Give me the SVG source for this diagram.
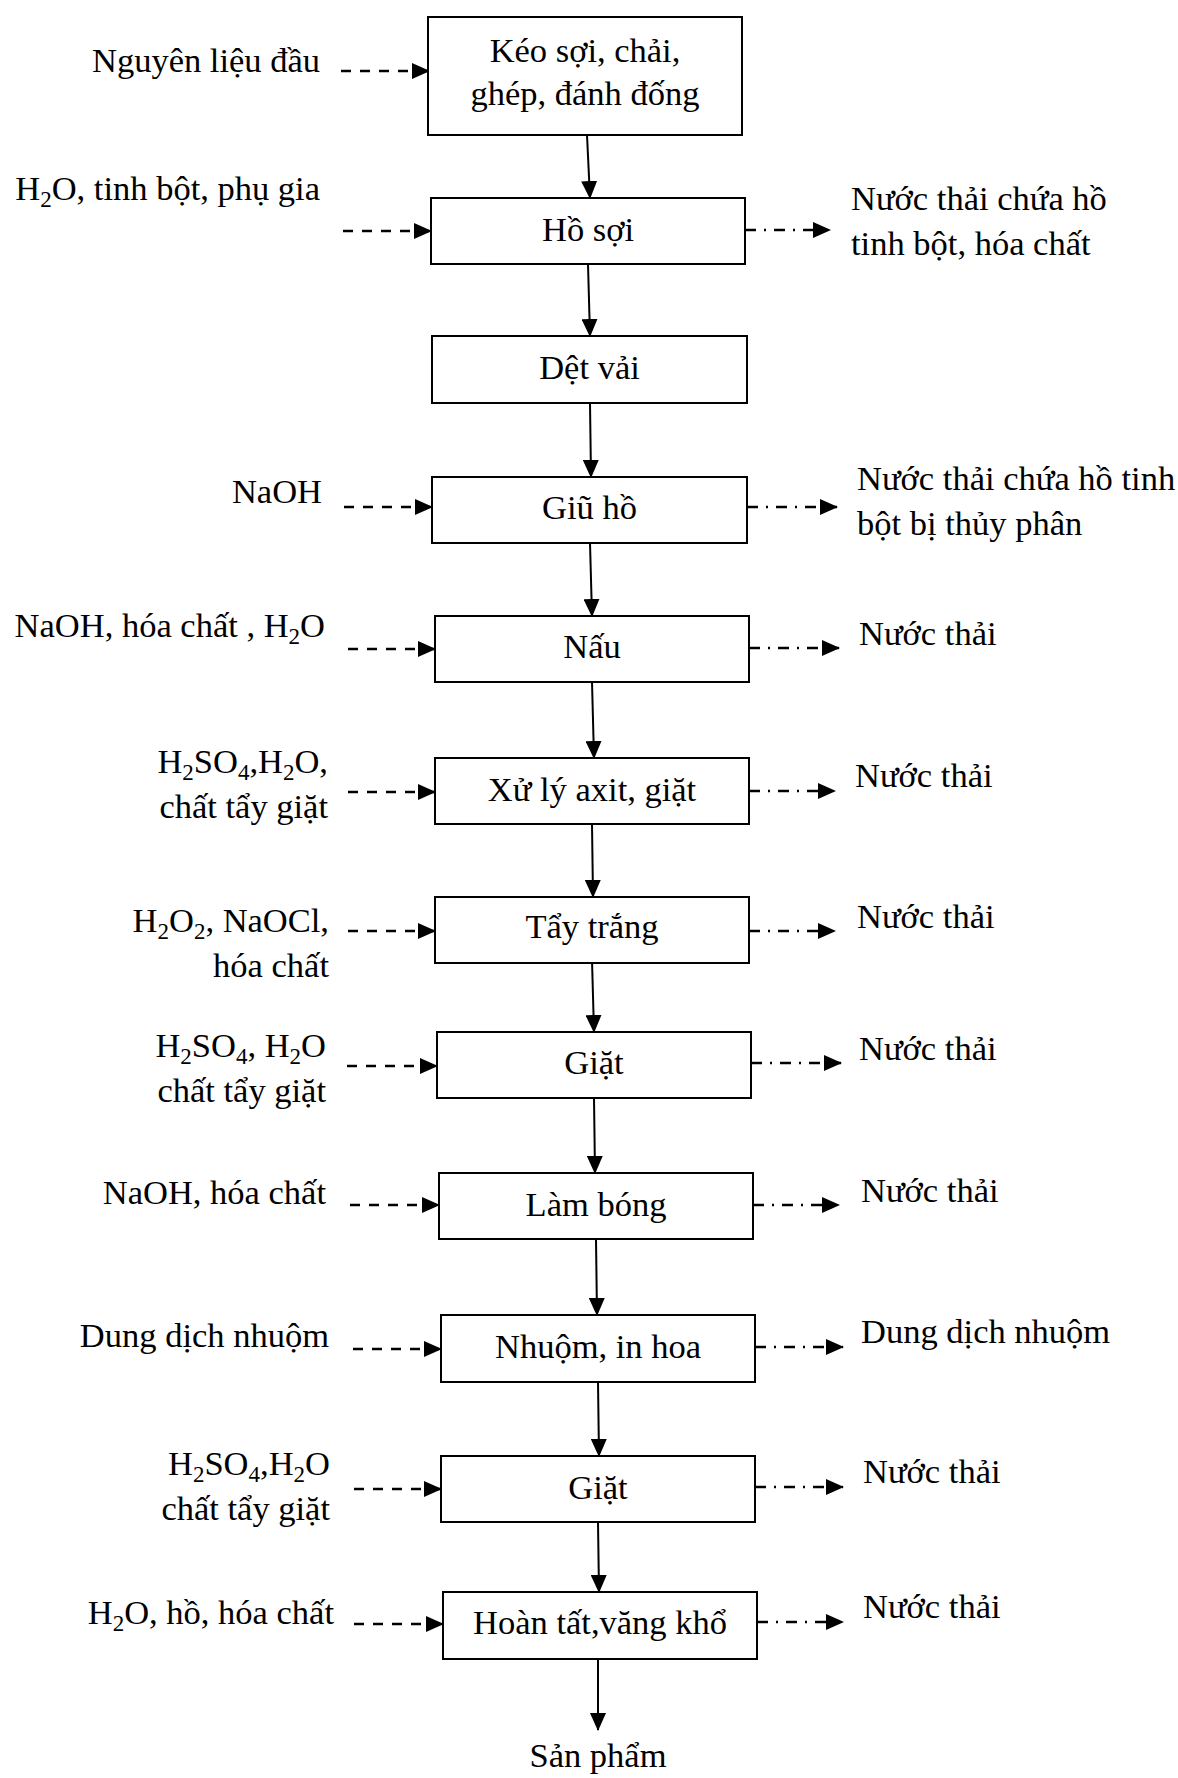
<svg xmlns="http://www.w3.org/2000/svg" width="1178" height="1778" viewBox="0 0 1178 1778">
<style>
text{font-family:"Liberation Serif","Times New Roman",serif;font-size:34.5px;fill:#000}
.l{text-anchor:end}
.r{text-anchor:start}
.m{text-anchor:middle}
.box{fill:#fff;stroke:#000;stroke-width:2}
.flow{stroke:#000;stroke-width:2;fill:none}
.in{stroke:#000;stroke-width:2.5;fill:none;stroke-dasharray:10 9}
.out{stroke:#000;stroke-width:2.5;fill:none;stroke-dasharray:11 8 2 8}
.sub{font-size:23px}
</style>
<defs>
<marker id="ah" markerUnits="userSpaceOnUse" markerWidth="18" markerHeight="16" refX="17" refY="8" orient="auto">
<path d="M0,0 L18,8 L0,16 z" fill="#000"/>
</marker>
</defs>

<g id="connectors">
<line class="flow" x1="587" y1="135" x2="590" y2="198" marker-end="url(#ah)"/>
<line class="flow" x1="588" y1="264" x2="590" y2="336" marker-end="url(#ah)"/>
<line class="flow" x1="590" y1="403" x2="591" y2="477" marker-end="url(#ah)"/>
<line class="flow" x1="590" y1="543" x2="592" y2="616" marker-end="url(#ah)"/>
<line class="flow" x1="592" y1="682" x2="594" y2="758" marker-end="url(#ah)"/>
<line class="flow" x1="592" y1="824" x2="593" y2="897" marker-end="url(#ah)"/>
<line class="flow" x1="592" y1="960" x2="594" y2="1032" marker-end="url(#ah)"/>
<line class="flow" x1="594" y1="1098" x2="595" y2="1173" marker-end="url(#ah)"/>
<line class="flow" x1="596" y1="1239" x2="597" y2="1315" marker-end="url(#ah)"/>
<line class="flow" x1="598" y1="1382" x2="599" y2="1456" marker-end="url(#ah)"/>
<line class="flow" x1="598" y1="1522" x2="599" y2="1592" marker-end="url(#ah)"/>
<line class="flow" x1="598" y1="1659" x2="598" y2="1730" marker-end="url(#ah)"/>

<line class="in" x1="341" y1="71" x2="429" y2="71" marker-end="url(#ah)"/>
<line class="in" x1="343" y1="231" x2="431" y2="231" marker-end="url(#ah)"/>
<line class="in" x1="344" y1="507" x2="432" y2="507" marker-end="url(#ah)"/>
<line class="in" x1="348" y1="649" x2="435" y2="649" marker-end="url(#ah)"/>
<line class="in" x1="348" y1="792" x2="435" y2="792" marker-end="url(#ah)"/>
<line class="in" x1="348" y1="931" x2="435" y2="931" marker-end="url(#ah)"/>
<line class="in" x1="347" y1="1066" x2="437" y2="1066" marker-end="url(#ah)"/>
<line class="in" x1="350" y1="1205" x2="439" y2="1205" marker-end="url(#ah)"/>
<line class="in" x1="353" y1="1349" x2="441" y2="1349" marker-end="url(#ah)"/>
<line class="in" x1="354" y1="1489" x2="441" y2="1489" marker-end="url(#ah)"/>
<line class="in" x1="354" y1="1624" x2="443" y2="1624" marker-end="url(#ah)"/>

<line class="out" x1="745" y1="230" x2="830" y2="230" marker-end="url(#ah)"/>
<line class="out" x1="747" y1="507" x2="837" y2="507" marker-end="url(#ah)"/>
<line class="out" x1="749" y1="648" x2="839" y2="648" marker-end="url(#ah)"/>
<line class="out" x1="749" y1="791" x2="835" y2="791" marker-end="url(#ah)"/>
<line class="out" x1="749" y1="931" x2="835" y2="931" marker-end="url(#ah)"/>
<line class="out" x1="751" y1="1063" x2="841" y2="1063" marker-end="url(#ah)"/>
<line class="out" x1="753" y1="1205" x2="839" y2="1205" marker-end="url(#ah)"/>
<line class="out" x1="755" y1="1347" x2="843" y2="1347" marker-end="url(#ah)"/>
<line class="out" x1="755" y1="1487" x2="843" y2="1487" marker-end="url(#ah)"/>
<line class="out" x1="757" y1="1622" x2="843" y2="1622" marker-end="url(#ah)"/>
</g>

<g id="n1"><rect class="box" x="428" y="17" width="314" height="118"/>
<text class="m" x="585" y="62">Kéo sợi, chải,</text><text class="m" x="585" y="105">ghép, đánh đống</text></g>
<g id="n2"><rect class="box" x="431" y="198" width="314" height="66"/><text class="m" x="588" y="241">Hồ sợi</text></g>
<g id="n3"><rect class="box" x="432" y="336" width="315" height="67"/><text class="m" x="589.5" y="379">Dệt vải</text></g>
<g id="n4"><rect class="box" x="432" y="477" width="315" height="66"/><text class="m" x="589.5" y="519">Giũ hồ</text></g>
<g id="n5"><rect class="box" x="435" y="616" width="314" height="66"/><text class="m" x="592" y="658">Nấu</text></g>
<g id="n6"><rect class="box" x="435" y="758" width="314" height="66"/><text class="m" x="592" y="801">Xử lý axit, giặt</text></g>
<g id="n7"><rect class="box" x="435" y="897" width="314" height="66"/><text class="m" x="592" y="938">Tẩy trắng</text></g>
<g id="n8"><rect class="box" x="437" y="1032" width="314" height="66"/><text class="m" x="594" y="1074">Giặt</text></g>
<g id="n9"><rect class="box" x="439" y="1173" width="314" height="66"/><text class="m" x="596" y="1216">Làm bóng</text></g>
<g id="n10"><rect class="box" x="441" y="1315" width="314" height="67"/><text class="m" x="598" y="1358">Nhuộm, in hoa</text></g>
<g id="n11"><rect class="box" x="441" y="1456" width="314" height="66"/><text class="m" x="598" y="1499">Giặt</text></g>
<g id="n12"><rect class="box" x="443" y="1592" width="314" height="67"/><text class="m" x="600" y="1634">Hoàn tất,văng khổ</text></g>
<g id="n13"><text class="m" x="598" y="1767">Sản phẩm</text></g>

<g id="inputs">
<text class="l" x="320" y="72">Nguyên liệu đầu</text>
<text class="l" x="320" y="200">H<tspan class="sub" dy="7">2</tspan><tspan dy="-7">O, tinh bột, phụ gia</tspan></text>
<text class="l" x="322" y="503">NaOH</text>
<text class="l" x="325" y="637">NaOH, hóa chất , H<tspan class="sub" dy="7">2</tspan><tspan dy="-7">O</tspan></text>
<text class="l" x="328" y="773">H<tspan class="sub" dy="7">2</tspan><tspan dy="-7">SO</tspan><tspan class="sub" dy="7">4</tspan><tspan dy="-7">,H</tspan><tspan class="sub" dy="7">2</tspan><tspan dy="-7">O,</tspan></text>
<text class="l" x="328" y="818">chất tẩy giặt</text>
<text class="l" x="329" y="932">H<tspan class="sub" dy="7">2</tspan><tspan dy="-7">O</tspan><tspan class="sub" dy="7">2</tspan><tspan dy="-7">, NaOCl,</tspan></text>
<text class="l" x="329" y="977">hóa chất</text>
<text class="l" x="326" y="1057">H<tspan class="sub" dy="7">2</tspan><tspan dy="-7">SO</tspan><tspan class="sub" dy="7">4</tspan><tspan dy="-7">, H</tspan><tspan class="sub" dy="7">2</tspan><tspan dy="-7">O</tspan></text>
<text class="l" x="326" y="1102">chất tẩy giặt</text>
<text class="l" x="326" y="1204">NaOH, hóa chất</text>
<text class="l" x="329" y="1347">Dung dịch nhuộm</text>
<text class="l" x="330" y="1475">H<tspan class="sub" dy="7">2</tspan><tspan dy="-7">SO</tspan><tspan class="sub" dy="7">4</tspan><tspan dy="-7">,H</tspan><tspan class="sub" dy="7">2</tspan><tspan dy="-7">O</tspan></text>
<text class="l" x="330" y="1520">chất tẩy giặt</text>
<text class="l" x="334" y="1624">H<tspan class="sub" dy="7">2</tspan><tspan dy="-7">O, hồ, hóa chất</tspan></text>
</g>

<g id="outputs">
<text class="r" x="851" y="210">Nước thải chứa hồ</text>
<text class="r" x="851" y="255">tinh bột, hóa chất</text>
<text class="r" x="857" y="490">Nước thải chứa hồ tinh</text>
<text class="r" x="857" y="535">bột bị thủy phân</text>
<text class="r" x="859" y="645">Nước thải</text>
<text class="r" x="855" y="787">Nước thải</text>
<text class="r" x="857" y="928">Nước thải</text>
<text class="r" x="859" y="1060">Nước thải</text>
<text class="r" x="861" y="1202">Nước thải</text>
<text class="r" x="861" y="1343">Dung dịch nhuộm</text>
<text class="r" x="863" y="1483">Nước thải</text>
<text class="r" x="863" y="1618">Nước thải</text>
</g>
</svg>
